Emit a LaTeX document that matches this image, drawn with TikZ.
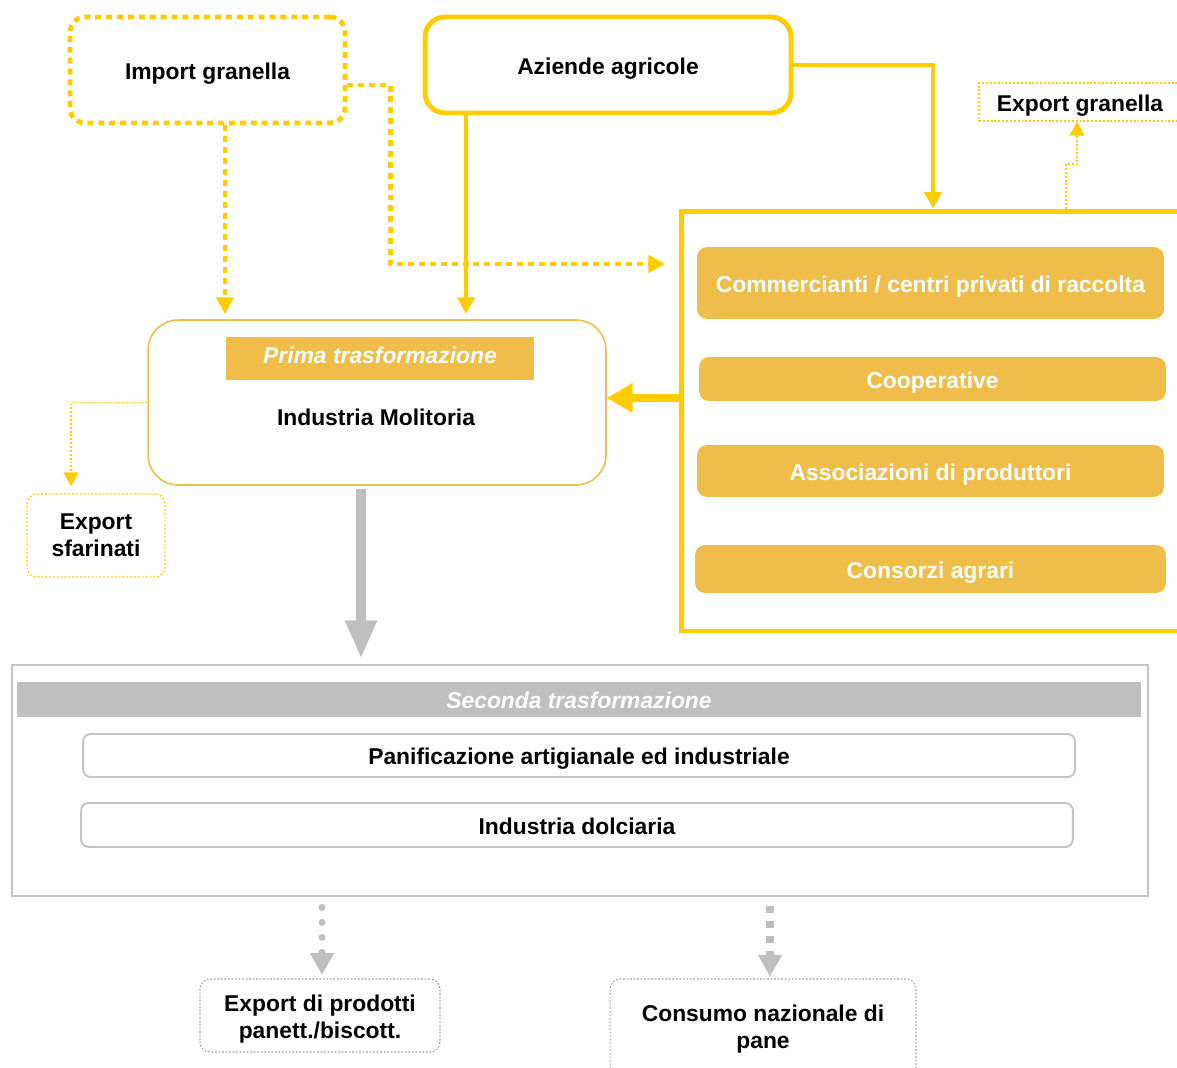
\documentclass[tikz,border=0pt]{standalone}
\usepackage{fontspec}
\setmainfont{Liberation Sans}
\usetikzlibrary{arrows.meta}
\definecolor{giallo}{RGB}{255,204,0}
\definecolor{arancio}{RGB}{239,190,74}
\definecolor{grigio}{RGB}{191,191,191}
\definecolor{grigiobordo}{RGB}{196,196,196}

\begin{document}
\begin{tikzpicture}[x=0.02cm, y=-0.02cm,
	every node/.style={font=\fontsize{13}{15.5}\selectfont\bfseries, align=center, inner sep=0pt},
	oneline/.style={text height=13pt, text depth=2.7pt},
	impbox/.style={oneline, draw=giallo, line width=2.8pt, dash pattern=on 3.4pt off 2.8pt, rounded corners=0.3cm},
	farmbox/.style={oneline, draw=giallo, line width=2.8pt, rounded corners=0.4cm},
	orbox/.style={oneline, fill=arancio, rounded corners=0.2cm, text=white},
	expbox/.style={draw=giallo, line width=0.7pt, dash pattern=on 1.1pt off 1.1pt},
	prodbox/.style={draw=grigio!85!black, line width=0.6pt, dash pattern=on 1pt off 1pt, rounded corners=0.2cm},
	secbox/.style={oneline, draw=grigiobordo, line width=1.1pt, rounded corners=0.15cm, minimum width=19.84cm},
	impflow/.style={draw=giallo, line width=2.8pt, dash pattern=on 3.4pt off 2.8pt, -{Triangle[length=9.5pt, width=9.8pt]}},
	farmflow/.style={draw=giallo, line width=2.8pt, -{Triangle[length=9.5pt, width=9.8pt]}},
	thinflow/.style={draw=giallo, line width=0.8pt, dash pattern=on 1.1pt off 1.1pt, -{Triangle[length=8pt, width=8.5pt]}},
	bigflow/.style={draw=giallo, line width=5pt, -{Triangle[length=14.7pt, width=16pt]}},
	greyflow/.style={draw=grigio, line width=5.4pt, -{Triangle[length=21.8pt, width=16.8pt]}},
	dotflow/.style={draw=grigio, line width=4pt, line cap=round, dash pattern=on 0pt off 8.5pt, -{Triangle[length=12.5pt, width=13pt]}},
	dashflow/.style={draw=grigio, line width=4pt, dash pattern=on 4pt off 4.5pt, -{Triangle[length=12.5pt, width=13pt]}}
	]
	\useasboundingbox (0,0) rectangle (1177,1068);
	
	\node[impbox, minimum width=5.5cm, minimum height=2.12cm] (import) at (207.5,70) {Import granella};
	\node[farmbox, minimum width=7.32cm, minimum height=1.92cm] (aziende) at (608,65) {Aziende agricole};
	\node[expbox, oneline, minimum width=4.04cm, minimum height=0.76cm] (exportgr) at (1080,102) {Export granella};
	
	\node[draw=giallo, line width=2.8pt, minimum width=10.24cm, minimum height=8.4cm] (trade) at (937,421) {};
	\node[orbox, minimum width=9.34cm, minimum height=1.44cm] (comm) at (930.5,283) {Commercianti / centri privati di raccolta};
	\node[orbox, minimum width=9.34cm, minimum height=0.88cm] (coop) at (932.5,379) {Cooperative};
	\node[orbox, minimum width=9.34cm, minimum height=1.04cm] (assoc) at (930.5,471) {Associazioni di produttori};
	\node[orbox, minimum width=9.42cm, minimum height=0.96cm] (consorzi) at (930.5,569) {Consorzi agrari};
	
	\node[draw=arancio, line width=0.9pt, rounded corners=0.6cm, minimum width=9.16cm, minimum height=3.3cm] (molit) at (377,402.5) {};
	\node[fill=arancio, text=white, font=\fontsize{13}{15.5}\selectfont\bfseries\itshape, text height=8.2pt, text depth=2.7pt, minimum width=6.16cm, minimum height=0.86cm] (prima) at (380,358.5) {Prima trasformazione};
	\node[oneline] (molittxt) at (376,416) {Industria Molitoria};
	\node[expbox, rounded corners=0.2cm, minimum width=2.76cm, minimum height=1.66cm] (expsf) at (96,535.5) {Export\\sfarinati};
	
	\node[draw=grigiobordo, line width=1.1pt, minimum width=22.72cm, minimum height=4.62cm] (seconda) at (580,780.5) {};
	\node[oneline, fill=grigio, text=white, font=\fontsize{13}{15.5}\selectfont\bfseries\itshape, minimum width=22.48cm, minimum height=0.7cm] (secbanner) at (579,699.5) {Seconda trasformazione};
	\node[secbox, minimum height=0.86cm] (panif) at (579,755.5) {Panificazione artigianale ed industriale};
	\node[secbox, minimum height=0.88cm] (dolc) at (577,825) {Industria dolciaria};
	
	\node[prodbox, minimum width=4.8cm, minimum height=1.46cm] (expprod) at (320,1015.5) {};
	\node (expprodtxt) at (320,1019) {Export di prodotti\\panett./biscott.};
	\node[prodbox, minimum width=6.12cm, minimum height=2cm] (consumo) at (763,1029) {};
	\node (consumotxt) at (763,1029) {Consumo nazionale di\\pane};
	
	\coordinate (tradein) at (665,264);
	\draw[impflow, shorten >=3pt] (225,0 |- import.south) -- (225,0 |- molit.north);
	\draw[impflow] ([yshift=-0.3cm]import.east) -- ++(43,0) |- (tradein);
	\draw[farmflow, shorten >=3pt] (466,0 |- aziende.south) -- (466,0 |- molit.north);
	\draw[farmflow] (aziende.east) -| (933,0 |- trade.north);
	\draw[bigflow, shorten <=-2pt] (trade.west |- 0,398) -- (molit.east |- 0,398);
	\draw[thinflow] (1066,0 |- trade.north) |- (1077,164) -- (1077,0 |- exportgr.south);
	\draw[thinflow, shorten >=4pt] (molit.west) -| (71,0 |- expsf.north);
	\draw[greyflow, shorten <=2pt, shorten >=3pt] (361,0 |- molit.south) -- (361,0 |- seconda.north);
	\draw[dotflow, shorten <=6pt, shorten >=2pt] (322,0 |- seconda.south) -- (322,0 |- expprod.north);
	\draw[dashflow, shorten <=5pt, shorten >=1pt] (770,0 |- seconda.south) -- (770,0 |- consumo.north);
\end{tikzpicture}
\end{document}
